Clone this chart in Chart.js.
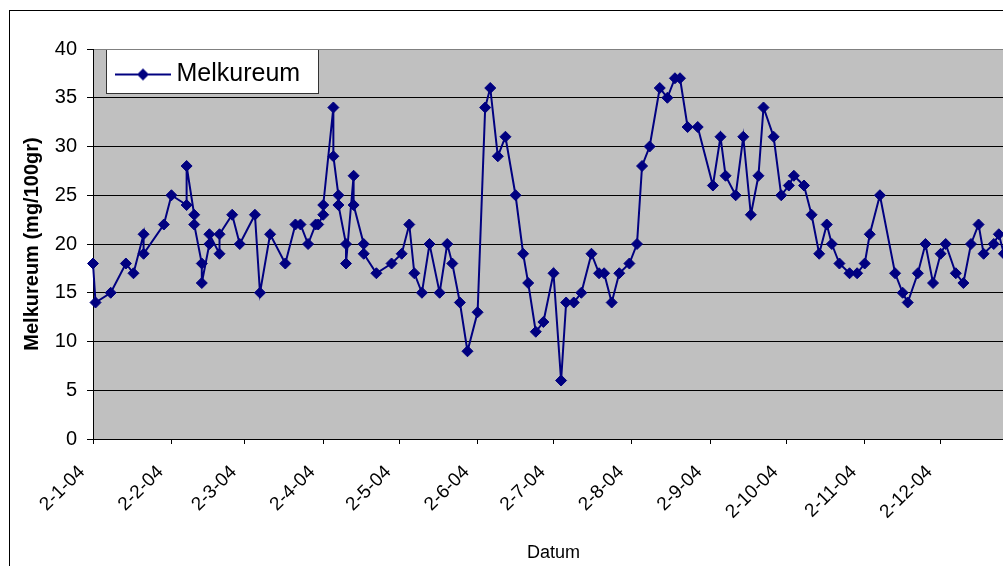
<!DOCTYPE html>
<html>
<head>
<meta charset="utf-8">
<script src="https://cdn.jsdelivr.net/npm/chart.js@4.4.1/dist/chart.umd.min.js"></script>
<style>
  html, body { margin: 0; padding: 0; background: #fff; overflow: hidden; }
  #wrap { position: relative; width: 1040px; height: 566px; }
</style>
</head>
<body>
<div id="wrap"><canvas id="ureumChart" width="1040" height="566"></canvas></div>
<script>
// measurement dates (2004) and melkureum values (mg/100gr)
const dates = [
  "2004-01-02", "2004-01-03", "2004-01-09", "2004-01-15", "2004-01-18", "2004-01-22", "2004-01-22", "2004-01-30",
  "2004-02-02", "2004-02-08", "2004-02-08", "2004-02-11", "2004-02-11", "2004-02-14", "2004-02-14", "2004-02-17",
  "2004-02-17", "2004-02-21", "2004-02-21", "2004-02-26", "2004-02-29",
  "2004-03-06", "2004-03-08", "2004-03-12", "2004-03-18", "2004-03-22", "2004-03-24", "2004-03-27", "2004-03-30", "2004-03-31",
  "2004-04-02", "2004-04-02", "2004-04-06", "2004-04-06", "2004-04-08", "2004-04-08", "2004-04-11", "2004-04-11",
  "2004-04-14", "2004-04-14", "2004-04-18", "2004-04-18", "2004-04-23", "2004-04-29",
  "2004-05-03", "2004-05-06", "2004-05-08", "2004-05-11", "2004-05-14", "2004-05-18", "2004-05-21", "2004-05-23",
  "2004-05-26", "2004-05-29",
  "2004-06-02", "2004-06-05", "2004-06-07", "2004-06-10", "2004-06-13", "2004-06-17", "2004-06-20", "2004-06-22",
  "2004-06-25", "2004-06-28",
  "2004-07-02", "2004-07-05", "2004-07-07", "2004-07-10", "2004-07-13", "2004-07-17", "2004-07-20", "2004-07-22",
  "2004-07-25", "2004-07-28",
  "2004-08-01", "2004-08-04", "2004-08-06", "2004-08-09", "2004-08-13", "2004-08-16", "2004-08-19", "2004-08-21",
  "2004-08-24", "2004-08-28",
  "2004-09-03", "2004-09-06", "2004-09-08", "2004-09-12", "2004-09-15", "2004-09-18", "2004-09-21", "2004-09-23",
  "2004-09-27", "2004-09-30",
  "2004-10-03", "2004-10-05", "2004-10-09", "2004-10-12", "2004-10-15", "2004-10-18", "2004-10-20", "2004-10-23",
  "2004-10-27", "2004-10-30",
  "2004-11-02", "2004-11-04", "2004-11-08", "2004-11-14", "2004-11-17", "2004-11-19", "2004-11-23", "2004-11-26",
  "2004-11-29",
  "2004-12-02", "2004-12-04", "2004-12-08", "2004-12-11", "2004-12-14", "2004-12-17", "2004-12-19", "2004-12-23",
  "2004-12-25", "2004-12-27"
];
const ureum = [
  18, 14, 15, 18, 17, 21, 19, 22,
  25, 24, 28, 23, 22, 18, 16, 20,
  21, 19, 21, 23, 20,
  23, 15, 21, 18, 22, 22, 20, 22, 22,
  23, 24, 34, 29, 25, 24, 20, 18,
  27, 24, 20, 19, 17, 18,
  19, 22, 17, 15, 20, 15, 20, 18,
  14, 9,
  13, 34, 36, 29, 31, 25, 19, 16,
  11, 12,
  17, 6, 14, 14, 15, 19, 17, 17,
  14, 17,
  18, 20, 28, 30, 36, 35, 37, 37,
  32, 32,
  26, 31, 27, 25, 31, 23, 27, 34,
  31, 25,
  26, 27, 26, 23, 19, 22, 20, 18,
  17, 17,
  18, 21, 25, 17, 15, 14, 17, 20,
  16,
  19, 20, 17, 16, 20, 22, 19, 20,
  21, 19
];
const tickDates = [
  "2004-01-02", "2004-02-02", "2004-03-02", "2004-04-02", "2004-05-02", "2004-06-02",
  "2004-07-02", "2004-08-02", "2004-09-02", "2004-10-02", "2004-11-02", "2004-12-02"
];
const tickLabels = ["2-1-04", "2-2-04", "2-3-04", "2-4-04", "2-5-04", "2-6-04",
  "2-7-04", "2-8-04", "2-9-04", "2-10-04", "2-11-04", "2-12-04"];
const axisStart = "2004-01-02";
const axisEnd = "2004-12-31";

const navy = "#000080";
const font = "'Liberation Sans', Arial, sans-serif";

function dayNr(s) {
  const p = s.split("-").map(Number);
  const p0 = axisStart.split("-").map(Number);
  return (Date.UTC(p[0], p[1] - 1, p[2]) - Date.UTC(p0[0], p0[1] - 1, p0[2])) / 86400000;
}

const points = dates.map((d, i) => ({ x: dayNr(d), y: ureum[i] }));
const tickDays = tickDates.map(dayNr);

// legend symbol: line with diamond
const legendSymbol = document.createElement("canvas");
legendSymbol.width = 75;
legendSymbol.height = 14;
(function () {
  const s = legendSymbol.getContext("2d");
  s.strokeStyle = navy;
  s.lineWidth = 2;
  s.beginPath();
  s.moveTo(19, 7);
  s.lineTo(75, 7);
  s.stroke();
  s.fillStyle = navy;
  s.beginPath();
  s.moveTo(41, 7);
  s.lineTo(47, 1);
  s.lineTo(53, 7);
  s.lineTo(47, 13);
  s.closePath();
  s.fill();
})();

const background = {
  id: "background",
  beforeDraw(chart) {
    const { ctx, chartArea } = chart;
    ctx.save();
    ctx.fillStyle = "#fff";
    ctx.fillRect(0, 0, chart.width, chart.height);
    ctx.strokeStyle = "#000";
    ctx.lineWidth = 1;
    ctx.strokeRect(9.5, 10.5, chart.width + 50, chart.height + 50);
    ctx.fillStyle = "#c0c0c0";
    ctx.fillRect(chartArea.left, chartArea.top, chartArea.right - chartArea.left, chartArea.bottom - chartArea.top);
    // legend frame
    ctx.fillStyle = "#fff";
    ctx.fillRect(chartArea.left + 13, chartArea.top, 212, 44);
    ctx.strokeStyle = "#333";
    ctx.strokeRect(chartArea.left + 13.5, chartArea.top + 0.5, 212, 44);
    ctx.restore();
  }
};

new Chart(document.getElementById("ureumChart").getContext("2d"), {
  type: "line",
  data: {
    datasets: [{
      label: "Melkureum",
      data: points,
      borderColor: navy,
      backgroundColor: navy,
      borderWidth: 2,
      pointStyle: "rectRot",
      pointRadius: 5.5,
      pointBorderWidth: 1,
      pointBackgroundColor: navy,
      pointBorderColor: navy,
      tension: 0,
      clip: false
    }]
  },
  options: {
    responsive: false,
    animation: false,
    layout: { padding: { top: 49, right: 26, left: 0, bottom: 0 } },
    plugins: {
      legend: {
        position: "chartArea",
        align: "start",
        title: { display: true, text: "", font: { size: 10 }, padding: { top: 40, bottom: 0 } },
        labels: {
          color: "#000",
          font: { family: font, size: 25 },
          padding: 10,
          usePointStyle: true,
          pointStyleWidth: 61,
          generateLabels(chart) {
            const items = Chart.defaults.plugins.legend.labels.generateLabels(chart);
            items.forEach(it => { it.pointStyle = legendSymbol; });
            return items;
          }
        }
      },
      tooltip: { enabled: false }
    },
    scales: {
      x: {
        type: "linear",
        min: dayNr(axisStart),
        max: dayNr(axisEnd),
        afterBuildTicks(scale) {
          scale.ticks = tickDays.map(v => ({ value: v }));
        },
        afterFit(scale) { scale.height = 127; },
        grid: { drawOnChartArea: false, drawTicks: true, tickLength: 5, color: "#000" },
        border: { color: "#000", width: 1 },
        ticks: {
          autoSkip: false,
          minRotation: 45,
          maxRotation: 45,
          padding: 17,
          labelOffset: -11,
          color: "#000",
          font: { family: font, size: 19 },
          callback: (value, index) => tickLabels[index]
        },
        title: {
          display: true,
          text: "Datum",
          color: "#000",
          font: { family: font, size: 18 },
          padding: { top: 0, bottom: 2 }
        }
      },
      y: {
        min: 0,
        max: 40,
        afterFit(scale) { scale.width = 93; },
        grid: {
          color: c => (c.tick && c.tick.value === 40 ? "#808080" : "#000"),
          tickColor: "#000",
          tickLength: 6,
          lineWidth: 1
        },
        border: { color: "#000", width: 1 },
        ticks: {
          stepSize: 5,
          padding: 10,
          color: "#000",
          font: { family: font, size: 20 }
        },
        title: {
          display: true,
          text: "Melkureum (mg/100gr)",
          color: "#000",
          font: { family: font, size: 20, weight: "bold" },
          padding: { top: 20, bottom: 0 }
        }
      }
    }
  },
  plugins: [background]
});
</script>
</body>
</html>
